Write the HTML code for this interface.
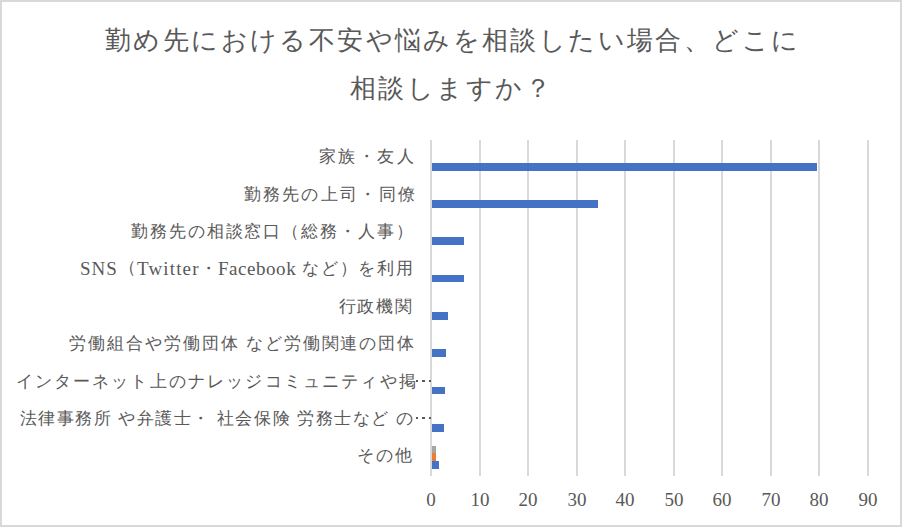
<!DOCTYPE html>
<html><head><meta charset="utf-8"><style>
html,body{margin:0;padding:0;background:#fff;}
body{width:902px;height:527px;position:relative;overflow:hidden;font-family:"Liberation Serif",serif;color:#595959;}
#frame{position:absolute;left:0;top:0;width:902px;height:527px;box-sizing:border-box;border:2px solid #d9d9d9;}
.t{position:absolute;font-size:26px;line-height:31.2px;white-space:nowrap;}
.g{position:absolute;top:140px;width:2px;height:336px;background:#d9d9d9;}
.b{position:absolute;left:432px;}
.l{position:absolute;font-size:17px;line-height:20.4px;white-space:nowrap;}
.d{position:absolute;width:2px;height:2px;background:#595959;}
.x{position:absolute;top:489px;width:40px;margin-left:-20px;text-align:center;font-size:19px;line-height:22px;}
</style></head><body>
<div id="frame"></div>
<div class="t" style="left:105px;top:25px;letter-spacing:2.39px">勤め先における不安や悩みを相談したい場合、どこに</div>
<div class="t" style="left:350px;top:72.8px;letter-spacing:2.45px">相談しますか？</div>

<div class="g" style="left:430px"></div>
<div class="g" style="left:479px"></div>
<div class="g" style="left:527px"></div>
<div class="g" style="left:576px"></div>
<div class="g" style="left:624px"></div>
<div class="g" style="left:673px"></div>
<div class="g" style="left:721px"></div>
<div class="g" style="left:770px"></div>
<div class="g" style="left:818px"></div>
<div class="g" style="left:867px"></div>
<div class="b" style="top:163px;height:8px;width:385px;background:#4472c4"></div>
<div class="b" style="top:200px;height:8px;width:166px;background:#4472c4"></div>
<div class="b" style="top:237px;height:8px;width:32px;background:#4472c4"></div>
<div class="b" style="top:275px;height:7px;width:32px;background:#4472c4"></div>
<div class="b" style="top:312px;height:8px;width:16px;background:#4472c4"></div>
<div class="b" style="top:349px;height:8px;width:14px;background:#4472c4"></div>
<div class="b" style="top:387px;height:7px;width:13px;background:#4472c4"></div>
<div class="b" style="top:424px;height:8px;width:12px;background:#4472c4"></div>
<div class="b" style="top:461px;height:8px;width:7px;background:#4472c4"></div>
<div class="b" style="top:453px;height:8px;width:4px;background:#ed7d31"></div>
<div class="b" style="top:446px;height:7px;width:4px;background:#a5a5a5"></div>
<div class="l" style="left:319px;top:147.0px;letter-spacing:2.45px">家族・友人</div>
<div class="l" style="left:243.7px;top:184.8px;letter-spacing:2.26px">勤務先の上司・同僚</div>
<div class="l" style="left:131px;top:221.7px;letter-spacing:1.91px">勤務先の相談窓口（総務・人事）</div>
<div class="l" style="left:79.9px;top:258px;font-size:19px;line-height:22.8px;letter-spacing:1.05px">SNS</div>
<div class="l" style="left:119px;top:258px">（</div>
<div class="l" style="left:137px;top:258px;font-size:19px;line-height:22.8px;letter-spacing:1.15px">Twitter</div>
<div class="l" style="left:200px;top:259px">・</div>
<div class="l" style="left:218px;top:258px;font-size:19px;line-height:22.8px;letter-spacing:0.54px">Facebook</div>
<div class="l" style="left:302px;top:259px;letter-spacing:1.8px">など）を利用</div>
<div class="l" style="left:338.6px;top:296.8px;letter-spacing:1.8px">行政機関</div>
<div class="l" style="left:69.4px;top:333.6px;letter-spacing:1.92px">労働組合や労働団体 など労働関連の団体</div>
<div class="l" style="left:15.5px;top:371.5px;letter-spacing:2.16px">インターネット上のナレッジコミュニティや掲</div>
<div class="l" style="left:19.5px;top:409.3px;letter-spacing:1.57px">法律事務所 や弁護士・ 社会保険 労務士など の</div>
<div class="l" style="left:357px;top:445.6px;letter-spacing:1.9px">その他</div>
<div class="d" style="left:416px;top:380px"></div><div class="d" style="left:422px;top:380px;width:3px"></div><div class="d" style="left:429px;top:380px"></div>
<div class="d" style="left:416px;top:417px"></div><div class="d" style="left:422px;top:417px;width:3px"></div><div class="d" style="left:429px;top:417px"></div>
<div class="x" style="left:431px">0</div>
<div class="x" style="left:480px">10</div>
<div class="x" style="left:528px">20</div>
<div class="x" style="left:577px">30</div>
<div class="x" style="left:625px">40</div>
<div class="x" style="left:674px">50</div>
<div class="x" style="left:722px">60</div>
<div class="x" style="left:771px">70</div>
<div class="x" style="left:819px">80</div>
<div class="x" style="left:868px">90</div>
</body></html>
